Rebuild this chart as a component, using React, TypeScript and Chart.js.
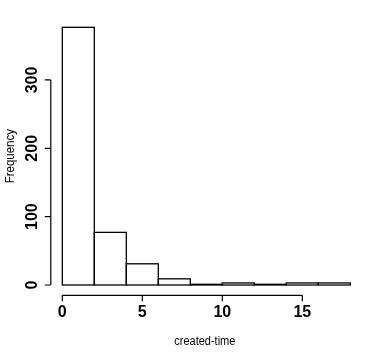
import React, { useEffect, useRef } from "react";
import { Chart, registerables } from "chart.js";

Chart.register(...registerables);

const binEdges = [0, 2, 4, 6, 8, 10, 12, 14, 16, 18];
const counts = [377, 77, 31, 9, 1, 3, 1, 3, 3];
const xTicks = [0, 5, 10, 15];
const yTicks = [0, 100, 200, 300];
const xTitle = "created-time";
const yTitle = "Frequency";

const tickFont = "bold 16px 'Liberation Sans', Arial, sans-serif";
const titleFont = "12.5px 'Liberation Sans', Arial, sans-serif";

const barOutline = {
  id: "barOutline",
  afterDatasetsDraw(chart: any) {
    const { ctx } = chart;
    const meta = chart.getDatasetMeta(0);
    ctx.save();
    ctx.strokeStyle = "#000";
    ctx.lineWidth = 1.3;
    for (const el of meta.data) {
      const { x, y, base, width } = el.getProps(["x", "y", "base", "width"], true);
      ctx.strokeRect(x - width / 2, y, width, base - y);
    }
    ctx.restore();
  },
};

const rAxes = {
  id: "rAxes",
  afterDraw(chart: any) {
    const { ctx, chartArea, scales } = chart;
    const xs = scales.x;
    const ys = scales.y;
    ctx.save();
    ctx.strokeStyle = "#000";
    ctx.fillStyle = "#000";
    ctx.lineWidth = 1.2;
    // y axis
    const yl = chartArea.left;
    ctx.beginPath();
    ctx.moveTo(yl, ys.getPixelForValue(yTicks[0]));
    ctx.lineTo(yl, ys.getPixelForValue(yTicks[yTicks.length - 1]));
    for (const t of yTicks) {
      const p = ys.getPixelForValue(t);
      ctx.moveTo(yl, p);
      ctx.lineTo(yl - 6, p);
    }
    ctx.stroke();
    ctx.font = tickFont;
    ctx.textAlign = "center";
    ctx.textBaseline = "middle";
    for (const t of yTicks) {
      const p = ys.getPixelForValue(t);
      ctx.save();
      ctx.translate(yl - 18, p);
      ctx.rotate(-Math.PI / 2);
      ctx.fillText(String(t), 0, 0);
      ctx.restore();
    }
    // x axis
    const xb = chartArea.bottom;
    ctx.beginPath();
    ctx.moveTo(xs.getPixelForValue(xTicks[0]), xb);
    ctx.lineTo(xs.getPixelForValue(xTicks[xTicks.length - 1]), xb);
    for (const t of xTicks) {
      const p = xs.getPixelForValue(t);
      ctx.moveTo(p, xb);
      ctx.lineTo(p, xb + 6);
    }
    ctx.stroke();
    for (const t of xTicks) {
      const p = xs.getPixelForValue(t);
      ctx.fillText(String(t), p, xb + 17.5);
    }
    // titles
    ctx.font = titleFont;
    ctx.save();
    ctx.translate((chartArea.left + chartArea.right) / 2 - 1.5, xb + 46);
    ctx.scale(0.88, 1);
    ctx.fillText(xTitle, 0, 0);
    ctx.restore();
    ctx.save();
    ctx.translate(11, (chartArea.top + chartArea.bottom) / 2);
    ctx.rotate(-Math.PI / 2);
    ctx.scale(0.92, 1);
    ctx.fillText(yTitle, 0, 0);
    ctx.restore();
    ctx.restore();
  },
};

export default function App() {
  const ref = useRef<HTMLCanvasElement>(null);
  useEffect(() => {
    if (!ref.current) return;
    const data = counts.map((c, i) => ({ x: (binEdges[i] + binEdges[i + 1]) / 2, y: c }));
    const xMin = binEdges[0];
    const xMax = binEdges[binEdges.length - 1];
    const yMax = Math.max(...counts);
    const chart = new Chart(ref.current, {
      type: "bar",
      data: {
        datasets: [
          {
            data,
            backgroundColor: "#fff",
            borderWidth: 0,
            barPercentage: 1,
            categoryPercentage: 1,
          },
        ],
      },
      options: {
        responsive: false,
        animation: false,
        events: [],
        layout: { padding: { left: 50.8, right: 8.2, top: 17, bottom: 68.7 } },
        plugins: { legend: { display: false }, tooltip: { enabled: false } },
        scales: {
          x: {
            type: "linear",
            display: false,
            offset: false,
            min: xMin - (xMax - xMin) * 0.04,
            max: xMax + (xMax - xMin) * 0.04,
          },
          y: {
            type: "linear",
            display: false,
            min: -yMax * 0.04,
            max: yMax * 1.04,
          },
        },
      },
      plugins: [barOutline, rAxes],
    });
    return () => chart.destroy();
  }, []);
  return (
    <div style={{ position: "fixed", left: 0, top: 0, width: 370, height: 364, background: "#fff" }}>
      <canvas ref={ref} width={370} height={364} />
    </div>
  );
}
